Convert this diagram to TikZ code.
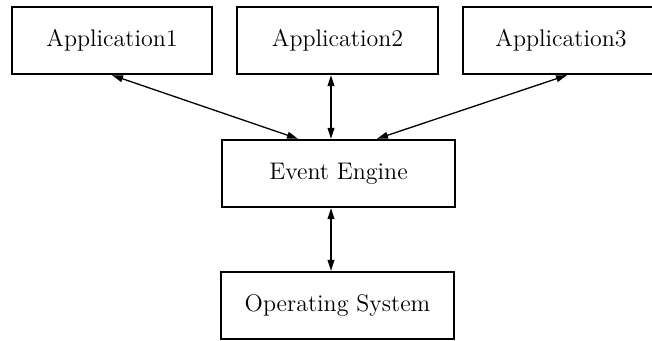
\documentclass[tikz,border=0pt]{standalone}
\usetikzlibrary{arrows.meta}
\begin{document}
\begin{tikzpicture}[x=0.5pt,y=-0.5pt,
  box/.style={draw,line width=1.2pt,minimum height=33.5pt,inner sep=0pt,
    font=\fontsize{12}{14}\selectfont},
  link/.style={line width=0.65pt,{Triangle[length=5.5pt,width=3.4pt]}-{Triangle[length=5.5pt,width=3.4pt]}}]
\useasboundingbox (0,0) rectangle (652,341);
\clip (0,0) rectangle (652,341);
\node[box,minimum width=100pt] (app1) at (112,40.5) {Application1};
\node[box,minimum width=100.5pt] (app2) at (337.5,40.5) {Application2};
\node[box,minimum width=98pt] (app3) at (561,40.5) {Application3};
\node[box,minimum width=116.5pt] (ee) at (338.5,173.5) {Event Engine};
\node[box,minimum width=116.5pt] (os) at (337.5,305.5) {Operating System};
\draw[link] (app1.south) -- ([xshift=-20.25pt]ee.north);
\draw[link] ([xshift=-3.25pt]app2.south) -- ([xshift=-3.75pt]ee.north);
\draw[link] ([xshift=3pt]app3.south) -- ([xshift=19.25pt]ee.north);
\draw[link] ([xshift=-3.75pt]ee.south) -- ([xshift=-3.25pt]os.north);
\end{tikzpicture}
\end{document}
